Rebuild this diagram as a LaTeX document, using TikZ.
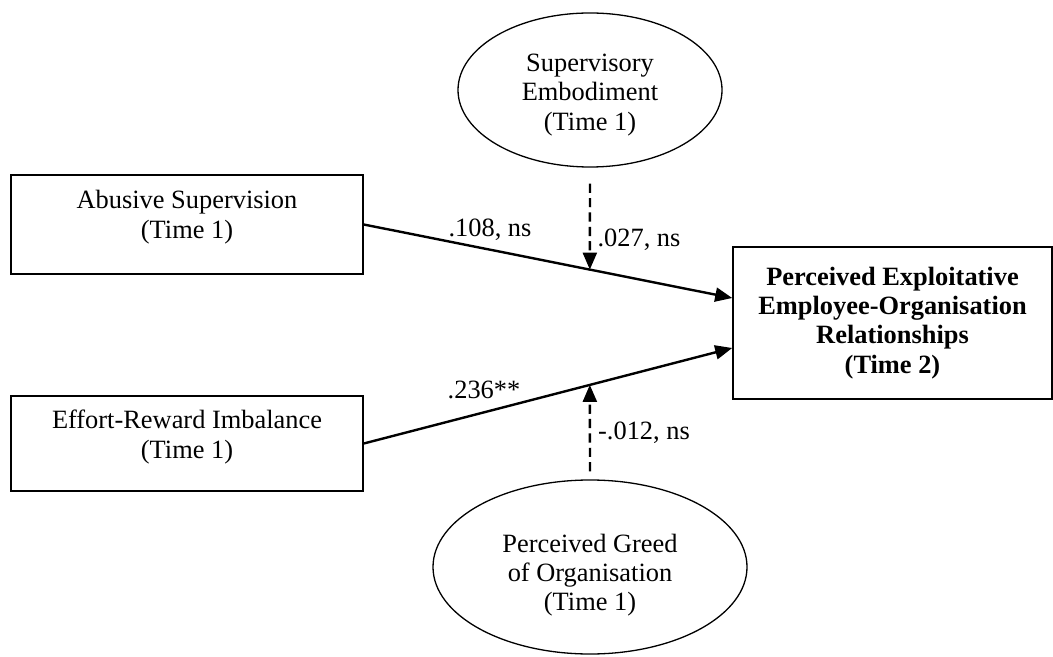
\documentclass[tikz,border=0pt]{standalone}
\usepackage{fontspec}
\setmainfont{Liberation Serif}
\usetikzlibrary{shapes.geometric,arrows.meta,calc}
\begin{document}
\begin{tikzpicture}[x=0.5pt,y=-0.5pt,
  every node/.style={font=\fontsize{13.2}{15}\selectfont},
  box/.style={draw,line width=0.8pt,rectangle,inner sep=0pt},
  oval/.style={draw,line width=0.65pt,ellipse,inner sep=0pt},
  txt/.style={align=center,inner sep=0pt},
  path/.style={line width=1.2pt,-{Triangle[length=8.5pt,width=7pt]}},
  dpath/.style={line width=1.2pt,dash pattern=on 4.6pt off 2.6pt,-{Triangle[length=8.5pt,width=7pt]}},
  lab/.style={inner sep=0pt}]
\useasboundingbox (0,0) rectangle (1053,657);
% boxes
\node[box,minimum width=176pt,minimum height=49.5pt] (ab) at (187,224.5) {};
\node[txt] (abt) at (187,217) {Abusive Supervision\\(Time 1)};
\node[box,minimum width=176pt,minimum height=47.5pt] (er) at (187,443.5) {};
\node[txt] (ert) at (187,437.5) {Effort-Reward Imbalance\\(Time 1)};
\node[box,align=center,minimum width=159.5pt,minimum height=76pt,font=\fontsize{13.2}{14.6}\selectfont\bfseries] (out) at (892.5,323) {Perceived Exploitative\\Employee-Organisation\\Relationships\\(Time 2)};
% ellipses
\node[oval,minimum width=132pt,minimum height=77pt] (se) at (590,90) {};
\node[txt,font=\fontsize{13.2}{14.6}\selectfont] (set) at (590,95) {Supervisory\\Embodiment\\(Time 1)};
\node[oval,minimum width=157pt,minimum height=87pt] (pg) at (590,567) {};
\node[txt,font=\fontsize{13.2}{14.6}\selectfont] (pgt) at (590,575) {Perceived Greed\\of Organisation\\(Time 1)};
% end points on the outcome box
\coordinate (p1) at ($(out.west)+(0,-25)$);
\coordinate (p2) at ($(out.west)+(0,25)$);
\draw[path] (ab.east) -- (p1);
\draw[path] (er.east) -- (p2);
\path (ab.east) -- (p1) coordinate[pos=0.6135] (m1);
\path (er.east) -- (p2) coordinate[pos=0.6135] (m2);
\draw[dpath] ($(se.south)+(0,16)$) -- (m1);
\draw[dpath] ($(pg.north)+(0,-8)$) -- (m2);
% labels
\node[lab] (l1) at (490,230) {.108, ns};
\node[lab] (l2) at (639,240) {.027, ns};
\node[lab] (l3) at (484,390) {.236**};
\node[lab] (l4) at (644,433) {-.012, ns};
\end{tikzpicture}
\end{document}
